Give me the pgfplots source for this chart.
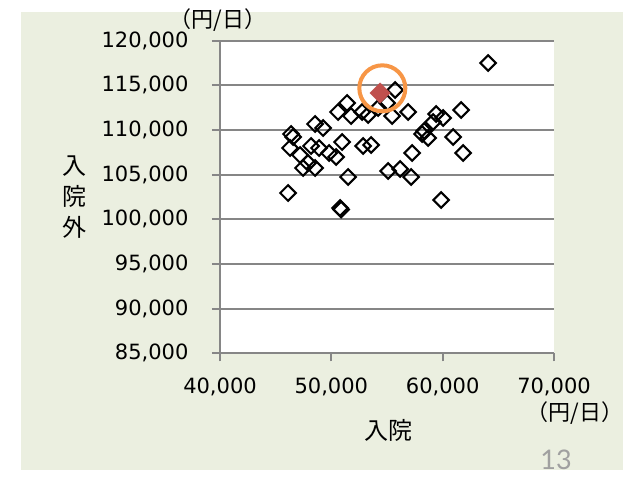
\documentclass[border=0pt]{standalone}
\usepackage{fontspec}
\setmainfont{DejaVu Sans}
\newfontfamily\cjk{Noto Sans CJK JP}
\newfontfamily\ticks{DejaVu Sans}
\newfontfamily\pagefont{Lato}
\usepackage{pgfplots}
\pgfplotsset{compat=1.18}
\definecolor{panel}{RGB}{235,239,224}
\definecolor{gridgray}{RGB}{134,134,134}
\definecolor{redpt}{RGB}{192,80,77}
\definecolor{orangec}{RGB}{247,150,70}
\definecolor{pagegray}{RGB}{160,160,160}

\begin{document}
\begin{tikzpicture}[x=1pt,y=1pt]
\useasboundingbox (0,0) rectangle (633,-479);
\fill[white] (0,0) rectangle (633,-479);
\fill[panel] (21,-12) rectangle (623,-470);
\begin{axis}[
  at={(220pt,-353.3pt)}, anchor=south west,
  scale only axis, width=334pt, height=312.6pt,
  xmin=40000, xmax=70000, ymin=85000, ymax=120000,
  scaled ticks=false,
  xtick={40000,50000,60000,70000},
  xticklabels={{40,000},{50,000},{60,000},{70,000}},
  ytick={85000,90000,95000,100000,105000,110000,115000,120000},
  yticklabels={{85,000},{90,000},{95,000},{100,000},{105,000},{110,000},{115,000},{120,000}},
  axis lines=left,
  axis line style={draw=gridgray, line width=2pt, -},
  axis background/.style={fill=white},
  ymajorgrids, grid style={draw=gridgray, line width=2pt},
  major tick length=8pt, tick align=outside,
  tick style={draw=gridgray, line width=2pt},
  ticklabel style={font=\ticks\fontsize{21}{24}\selectfont, text=black},
  xticklabel style={yshift=-13pt},
  yticklabel style={xshift=-20pt},
  every axis x label/.style={at={(axis description cs:0.503,-0.2454)}, anchor=center,
     font=\cjk\fontsize{24}{28}\selectfont},
  every axis y label/.style={at={(axis description cs:-0.4356,0.5)}, anchor=center,
     align=center, font=\cjk\fontsize{24}{31}\selectfont},
  xlabel={入院},
  ylabel={入\\院\\外},
  clip=false,
]
\addplot[only marks, mark=square, mark size=5.5pt,
  mark options={rotate=45, draw=black, line width=2.1pt, fill=none}] coordinates {
(64080,117500) (55724,114480) (55005,113025) (54196,112465) (53298,111681)
(51411,113025) (50602,112017) (51770,111569) (52759,112017) (55454,111569)
(56892,112017) (59408,111793) (60037,111346) (59138,110898) (61654,112241)
(58329,109890) (58689,109106) (58150,109555) (60935,109218) (61834,107427)
(57251,107427) (48536,110674) (49254,110226) (46379,109554) (46559,109218)
(46290,107987) (47188,107203) (48177,108211) (48895,107987) (49794,107427)
(50423,106979) (47458,105747) (47907,106307) (48536,105747) (50962,108658)
(52849,108211) (53567,108323) (51501,104740) (55095,105412) (56173,105636)
(57161,104740) (46110,102948) (50782,101269) (50872,101100) (59857,102165)
};
\addplot[only marks, mark=square*, mark size=7.2pt,
  mark options={rotate=45, draw=redpt, fill=redpt, line width=0.4pt}] coordinates {
(54376,114144)
};
\addplot[only marks, mark=o, mark size=23pt,
  mark options={draw=orangec, line width=4pt, fill=none}] coordinates {
(54580,114670)
};
\node[font=\cjk\fontsize{22}{26}\selectfont] at (axis description cs:-0.006,1.066) {（円/日）};
\node[font=\cjk\fontsize{22}{26}\selectfont] at (axis description cs:1.063,-0.191) {（円/日）};
\end{axis}
\node[font=\pagefont\fontsize{27}{30}\selectfont, text=pagegray] at (556,-460) {13};
\end{tikzpicture}
\end{document}
